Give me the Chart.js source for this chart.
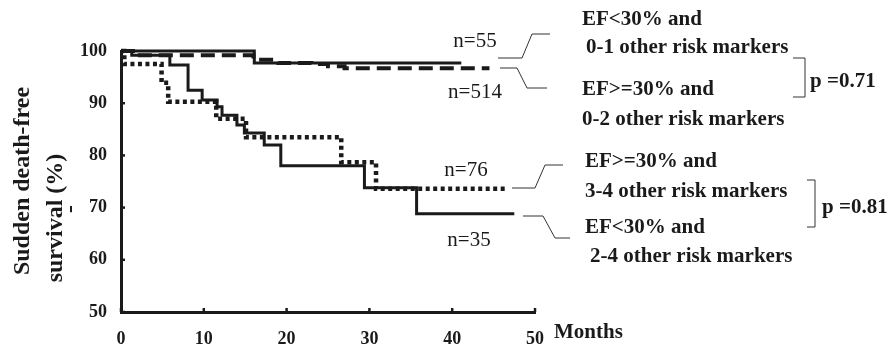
<!DOCTYPE html>
<html>
<head>
<meta charset="utf-8">
<script src="https://cdn.jsdelivr.net/npm/chart.js@4"></script>
<style>
  html, body { margin: 0; background: #fff; }
  #wrap { width: 890px; height: 344px; position: relative; }
</style>
</head>
<body>
<div id="wrap"><canvas id="km"></canvas></div>
<script>
// tick values
var xTicks = [0, 10, 20, 30, 40, 50];
var yTicks = [50, 60, 70, 80, 90, 100];

// EF<30% and 0-1 other risk markers, n=55
var efLowMonths = [0, 16.1, 41.1];
var efLowSurv = [100, 97.7, 97.7];

// EF>=30% and 0-2 other risk markers, n=514
var okLowMonths = [0, 2.0, 16.0, 19.0, 23.0, 25.0, 27.0, 44.5];
var okLowSurv = [100, 99.2, 98.3, 97.7, 97.5, 97.1, 96.7, 96.7];

// EF>=30% and 3-4 other risk markers, n=76
var okHighMonths = [0, 0.4, 4.9, 5.7, 11.5, 15.1, 26.6, 30.8, 46.5];
var okHighSurv = [100, 97.5, 93.9, 90.3, 87.0, 83.5, 78.7, 73.6, 73.6];

// EF<30% and 2-4 other risk markers, n=35
var efHighMonths = [0, 1.3, 5.9, 8.1, 9.8, 11.6, 12.2, 14.0, 14.9, 17.3, 19.3, 29.4, 35.7, 47.5];
var efHighSurv = [100, 99.2, 97.3, 92.5, 90.6, 89.3, 87.7, 85.8, 84.3, 82.0, 78.0, 73.8, 68.8, 68.8];

function pts(xs, ys) {
    return xs.map(function (x, i) { return { x: x, y: ys[i] }; });
}

var ink = '#1a1a1a';
var serif = "'Liberation Serif', 'DejaVu Serif', serif";

function line(label, xs, ys, dash, width) {
    return {
        label: label,
        data: pts(xs, ys),
        stepped: true,
        borderColor: ink,
        borderWidth: width,
        borderDash: dash,
        borderCapStyle: 'butt',
        pointRadius: 0,
        fill: false,
        clip: false
    };
}

// inner tick marks, y title and the right-hand annotations
var extras = {
    id: 'extras',
    afterDraw: function (chart) {
        var ctx = chart.ctx;
        var xs = chart.scales.x, ys = chart.scales.y;
        ctx.save();
        ctx.strokeStyle = ink;
        ctx.lineWidth = 2.5;
        xTicks.forEach(function (v) {
            var p = xs.getPixelForValue(v);
            ctx.beginPath(); ctx.moveTo(p, ys.bottom); ctx.lineTo(p, ys.bottom - 4); ctx.stroke();
        });
        yTicks.forEach(function (v) {
            var p = ys.getPixelForValue(v);
            ctx.beginPath(); ctx.moveTo(xs.left, p); ctx.lineTo(xs.left + 4, p); ctx.stroke();
        });

        // y title
        ctx.fillStyle = ink;
        ctx.font = 'bold 24px ' + serif;
        ctx.textAlign = 'center';
        ctx.textBaseline = 'middle';
        ctx.save(); ctx.translate(23, 181); ctx.rotate(-Math.PI / 2);
        ctx.fillText('Sudden death-free', 0, 0); ctx.restore();
        ctx.save(); ctx.translate(56, 218); ctx.rotate(-Math.PI / 2);
        ctx.fillText('survival (%)', 0, 0); ctx.restore();
        ctx.save(); ctx.translate(71, 209); ctx.rotate(-Math.PI / 2);
        ctx.fillText('-', 0, 0); ctx.restore();

        // n= labels
        ctx.font = '21px ' + serif;
        ctx.fillText('n=55', 475, 41);
        ctx.fillText('n=514', 475, 92);
        ctx.fillText('n=76', 466, 170);
        ctx.fillText('n=35', 469, 240);

        // leader lines
        ctx.lineWidth = 1;
        ctx.strokeStyle = '#333';
        [
            [[498, 58], [522, 58], [532, 34], [550, 34]],
            [[500, 68], [517, 68], [527, 88], [547, 88]],
            [[512, 188], [535, 188], [545, 165], [563, 165]],
            [[523, 216], [543, 216], [555, 238], [570, 238]]
        ].forEach(function (seg) {
            ctx.beginPath();
            seg.forEach(function (q, i) { if (i) ctx.lineTo(q[0], q[1]); else ctx.moveTo(q[0], q[1]); });
            ctx.stroke();
        });
        // brackets
        [[793, 805, 58, 97], [807, 815, 180, 227]].forEach(function (b) {
            ctx.beginPath();
            ctx.moveTo(b[0], b[2]); ctx.lineTo(b[1], b[2]); ctx.lineTo(b[1], b[3]); ctx.lineTo(b[0], b[3]);
            ctx.stroke();
        });

        // group labels
        ctx.font = 'bold 21px ' + serif;
        ctx.textAlign = 'left';
        ctx.fillText('EF<30% and', 582, 20);
        ctx.fillText('0-1 other risk markers', 586, 48);
        ctx.fillText('EF>=30% and', 582, 90);
        ctx.fillText('0-2 other risk markers', 582, 120);
        ctx.fillText('p =0.71', 810, 82);
        ctx.fillText('EF>=30% and', 585, 162);
        ctx.fillText('3-4 other risk markers', 585, 192);
        ctx.fillText('EF<30% and', 585, 228);
        ctx.fillText('2-4 other risk markers', 590, 257);
        ctx.fillText('p =0.81', 822, 208);
        ctx.fillText('Months', 554, 333);
        ctx.restore();
    }
};

new Chart(document.getElementById('km'), {
    type: 'line',
    data: {
        datasets: [
            line('EF<30% and 0-1 other risk markers', efLowMonths, efLowSurv, [], 3),
            line('EF>=30% and 0-2 other risk markers', okLowMonths, okLowSurv, [14, 7], 4),
            line('EF>=30% and 3-4 other risk markers', okHighMonths, okHighSurv, [4, 3.5], 4.5),
            line('EF<30% and 2-4 other risk markers', efHighMonths, efHighSurv, [], 3)
        ]
    },
    options: {
        responsive: true,
        maintainAspectRatio: false,
        animation: false,
        layout: { padding: { left: 0, top: 51, right: 355, bottom: 0 } },
        plugins: {
            legend: { display: false },
            tooltip: { enabled: false }
        },
        scales: {
            x: {
                type: 'linear',
                min: 0,
                max: 50,
                afterBuildTicks: function (s) { s.ticks = xTicks.map(function (v) { return { value: v }; }); },
                afterFit: function (s) { s.height = 32; },
                grid: { display: false, drawTicks: false },
                border: { display: true, color: ink, width: 3 },
                ticks: {
                    color: ink,
                    padding: 17,
                    maxRotation: 0,
                    font: { family: serif, size: 18, weight: 'bold' }
                }
            },
            y: {
                type: 'linear',
                min: 50,
                max: 100,
                afterBuildTicks: function (s) { s.ticks = yTicks.map(function (v) { return { value: v }; }); },
                afterFit: function (s) { s.width = 121; },
                grid: { display: false, drawTicks: false },
                border: { display: true, color: ink, width: 3 },
                ticks: {
                    color: ink,
                    padding: 14,
                    font: { family: serif, size: 18, weight: 'bold' }
                }
            }
        }
    },
    plugins: [extras]
});
</script>
</body>
</html>
